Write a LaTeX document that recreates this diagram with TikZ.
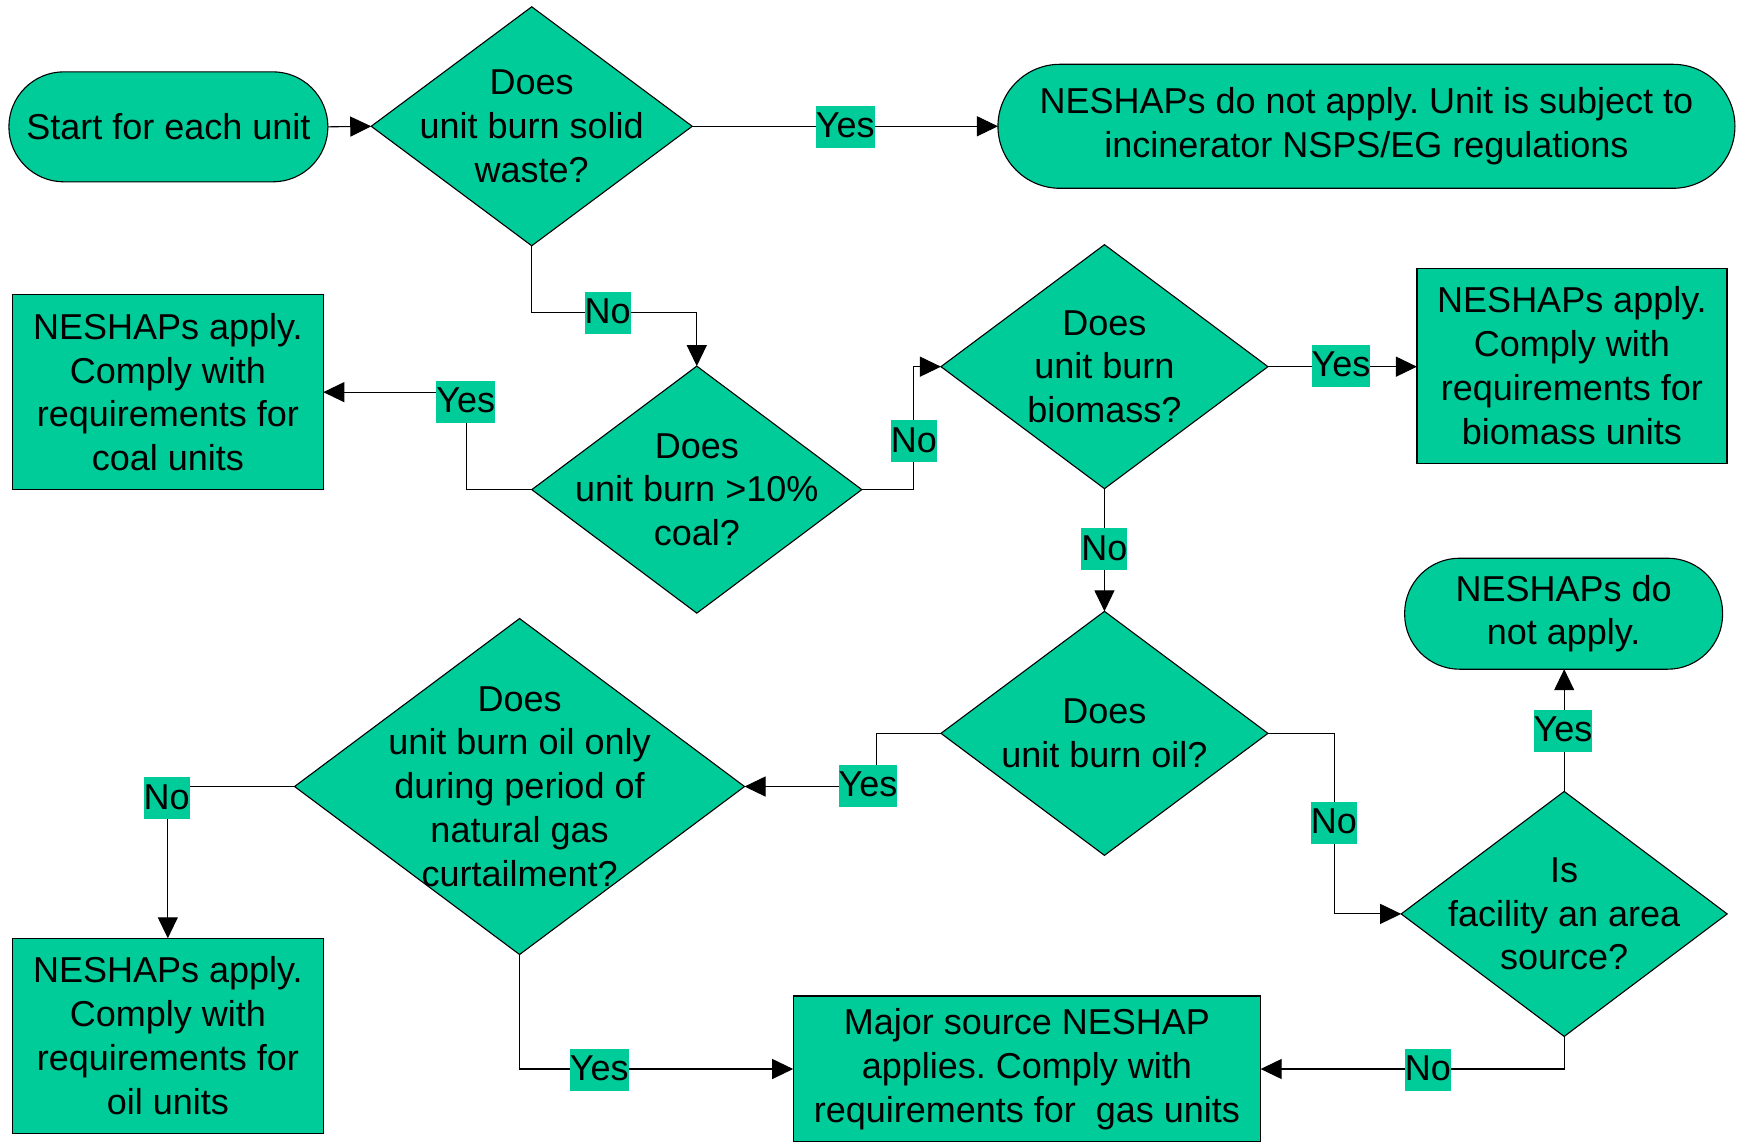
\documentclass[tikz,border=0pt]{standalone}
\usepackage{fontspec}
\setmainfont{Liberation Sans}
\usetikzlibrary{shapes.geometric,arrows.meta}
\definecolor{fgreen}{RGB}{0,204,153}
\frenchspacing
\tikzset{
  base/.style={draw=black, line width=1.1pt, fill=fgreen, inner sep=0pt, outer sep=0pt,
    align=center, font=\fontsize{36pt}{43.8pt}\selectfont},
  dia/.style={base, diamond},
  boxnode/.style={base, rectangle},
  term/.style={base, rectangle},
  txt/.style={align=center, inner sep=0pt, font=\fontsize{36pt}{43.8pt}\selectfont},
  lab/.style={fill=fgreen, inner xsep=0pt, inner ysep=0pt, text height=32pt, text depth=10pt,
    font=\fontsize{36pt}{43.8pt}\selectfont},
  conn/.style={draw=black, line width=1.1pt},
  arr/.style={conn, -{Triangle[length=21pt,width=20pt]}},
}
\begin{document}
\begin{tikzpicture}[x=1.1078pt,y=-1.1078pt]
\useasboundingbox (0,0) rectangle (1568,1030);
% terminals
\node[term, rounded corners=55pt, minimum width=319pt, minimum height=110pt] (start) at (152,114.5) {Start for each unit};
\node[term, rounded corners=62pt, minimum width=737pt, minimum height=124pt] (tr) at (1233.5,114) {NESHAPs do not apply. Unit is subject to\\incinerator NSPS/EG regulations};
\node[term, rounded corners=55pt, minimum width=318pt, minimum height=111pt] (rt) at (1411.5,554) {NESHAPs do\\not apply.};
% boxes
\node[boxnode, minimum width=311pt, minimum height=195pt] (coal) at (151.5,354) {NESHAPs apply.\\Comply with\\requirements for\\coal units};
\node[boxnode, minimum width=310pt, minimum height=195pt] (bio) at (1419,330) {NESHAPs apply.\\Comply with\\requirements for\\biomass units};
\node[boxnode, minimum width=311pt, minimum height=195pt] (oil) at (151.5,935) {NESHAPs apply.\\Comply with\\requirements for\\oil units};
\node[boxnode, minimum width=467.5pt, minimum height=146pt] (major) at (927,965) {Major source NESHAP\\applies. Comply with\\requirements for\ \ gas units};
% diamonds
\node[dia, minimum width=321pt, minimum height=239pt] (d1) at (480,114) {};
\node[txt] (t1) at (d1) {Does\\unit burn solid\\waste?};
\node[dia, minimum width=330pt, minimum height=247pt] (d2) at (629,442) {};
\node[txt] (t2) at (d2) {Does\\unit burn >10\%\\coal?};
\node[dia, minimum width=327pt, minimum height=244pt] (d3) at (997,331) {};
\node[txt] (t3) at (d3) {Does\\unit burn\\biomass?};
\node[dia, minimum width=327pt, minimum height=244pt] (d4) at (997,662) {};
\node[txt] (t4) at (d4) {Does\\unit burn oil?};
\node[dia, minimum width=450pt, minimum height=336pt] (d5) at (469,710) {};
\node[txt] (t5) at (d5) {Does\\unit burn oil only\\during period of\\natural gas\\curtailment?};
\node[dia, minimum width=326pt, minimum height=245pt] (d6) at (1412,825) {};
\node[txt] (t6) at (d6) {Is\\facility an area\\source?};
% bend coordinates
\coordinate (k1) at (629,282);
\coordinate (k2) at (421,442);
\coordinate (k3) at (825,442);
\coordinate (k4) at (791,662);
\coordinate (k5) at (1205,662);
% connectors
\draw[arr] (start.east) -- (d1.west);
\draw[arr] (d1.east) -- (tr.west |- d1.east);
\draw[arr] (d1.south) |- (k1) -- (d2.north);
\draw[arr] (d2.west) -- (k2) |- (coal.east);
\draw[arr] (d2.east) -- (k3) |- (d3.west);
\draw[arr] (d3.east) -- (d3.east -| bio.west);
\draw[arr] (d3.south) -- (d4.north);
\draw[arr] (d4.west) -- (k4) |- (d5.east);
\draw[arr] (d5.west) -| (oil.north);
\draw[arr] (d5.south) |- (major.west);
\draw[arr] (d4.east) -- (k5) |- (d6.west);
\draw[arr] (d6.north) -- (d6.north |- rt.south);
\draw[arr] (d6.south) |- (major.east);
% labels
\node[lab] (l1) at (763,114.5) {Yes};
\node[lab] (l2) at (548.5,282.5) {No};
\node[lab] (l3) at (420.5,362.5) {Yes};
\node[lab] (l4) at (825,398.5) {No};
\node[lab] (l5) at (1210.5,330) {Yes};
\node[lab] (l6) at (997,496) {No};
\node[lab] (l7) at (783.5,709.5) {Yes};
\node[lab] (l8) at (150.5,720.5) {No};
\node[lab] (l9) at (541,965.5) {Yes};
\node[lab] (l10) at (1204,742.5) {No};
\node[lab] (l11) at (1411,659.5) {Yes};
\node[lab] (l12) at (1289,965.5) {No};
\end{tikzpicture}
\end{document}
